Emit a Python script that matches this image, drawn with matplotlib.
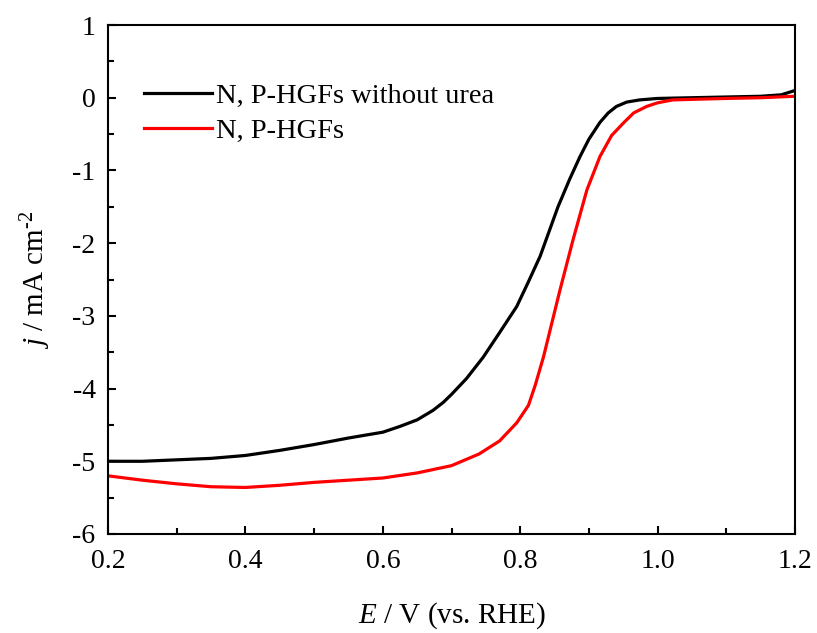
import matplotlib
matplotlib.use("Agg")
import matplotlib.pyplot as plt
from matplotlib.ticker import MultipleLocator, FormatStrFormatter

plt.rcParams["font.family"] = ["Liberation Serif", "DejaVu Serif"]
plt.rcParams["mathtext.fontset"] = "custom"
plt.rcParams["mathtext.rm"] = "Liberation Serif"
plt.rcParams["mathtext.it"] = "Liberation Serif:italic"
plt.rcParams["axes.unicode_minus"] = False

# LSV curves
e_without_urea = [0.20, 0.25, 0.30, 0.35, 0.40, 0.45, 0.50, 0.55, 0.60, 0.625,
                  0.65, 0.673, 0.688, 0.70, 0.722, 0.746, 0.77, 0.795, 0.812,
                  0.829, 0.855, 0.872, 0.887, 0.90, 0.916, 0.928, 0.94, 0.955,
                  0.974, 1.00, 1.05, 1.10, 1.15, 1.18, 1.20]
j_without_urea = [-5.00, -5.00, -4.98, -4.96, -4.92, -4.85, -4.77, -4.68, -4.60, -4.52,
                  -4.43, -4.30, -4.19, -4.08, -3.86, -3.57, -3.23, -2.87, -2.53,
                  -2.18, -1.50, -1.12, -0.81, -0.57, -0.34, -0.21, -0.12, -0.06,
                  -0.03, -0.01, 0.00, 0.01, 0.02, 0.04, 0.10]

e_hgfs = [0.20, 0.25, 0.30, 0.35, 0.40, 0.45, 0.50, 0.55, 0.60, 0.65, 0.70,
          0.74, 0.77, 0.795, 0.812, 0.822, 0.834, 0.858, 0.877, 0.897, 0.916,
          0.933, 0.95, 0.965, 0.984, 1.00, 1.022, 1.06, 1.10, 1.15, 1.20]
j_hgfs = [-5.20, -5.26, -5.31, -5.35, -5.36, -5.33, -5.29, -5.26, -5.23, -5.16, -5.06,
          -4.90, -4.72, -4.47, -4.23, -3.95, -3.56, -2.64, -1.95, -1.27, -0.81,
          -0.52, -0.35, -0.21, -0.12, -0.07, -0.03, -0.02, -0.01, 0.00, 0.02]

labels = ["N, P-HGFs without urea", "N, P-HGFs"]
colors = ["black", "#ff0000"]

fig = plt.figure(figsize=(8.17, 6.33), dpi=100)
ax = fig.add_axes([0.1322, 0.1564, 0.8409, 0.8041])

ax.plot(e_without_urea, j_without_urea, color=colors[0], lw=2.3, label=labels[0])
ax.plot(e_hgfs, j_hgfs, color=colors[1], lw=2.3, label=labels[1])

ax.set_xlim(0.2, 1.2)
ax.set_ylim(-6, 1)
ax.xaxis.set_major_locator(MultipleLocator(0.2))
ax.xaxis.set_minor_locator(MultipleLocator(0.1))
ax.yaxis.set_major_locator(MultipleLocator(1))
ax.yaxis.set_minor_locator(MultipleLocator(0.5))
ax.xaxis.set_major_formatter(FormatStrFormatter("%.1f"))
ax.yaxis.set_major_formatter(FormatStrFormatter("%d"))

ax.tick_params(which="both", direction="in", top=False, right=False, width=1.5,
               labelsize=20)
ax.tick_params(axis="x", pad=11)
ax.tick_params(axis="y", pad=9)
ax.tick_params(which="major", length=6)
ax.tick_params(which="minor", length=4)
for s in ax.spines.values():
    s.set_linewidth(1.5)

ax.set_xlabel(r"$E$ / V (vs. RHE)", fontsize=21, labelpad=19)
ax.set_ylabel(r"$j$ / mA cm$^{\text{-2}}$", fontsize=21, labelpad=14)

ax.legend(loc="upper left", bbox_to_anchor=(0.052, 0.886), frameon=False,
          fontsize=20.5, handlelength=2.4, handletextpad=0.15, labelspacing=0.32,
          borderaxespad=0, borderpad=0)

fig.savefig("out.png", dpi=100)
